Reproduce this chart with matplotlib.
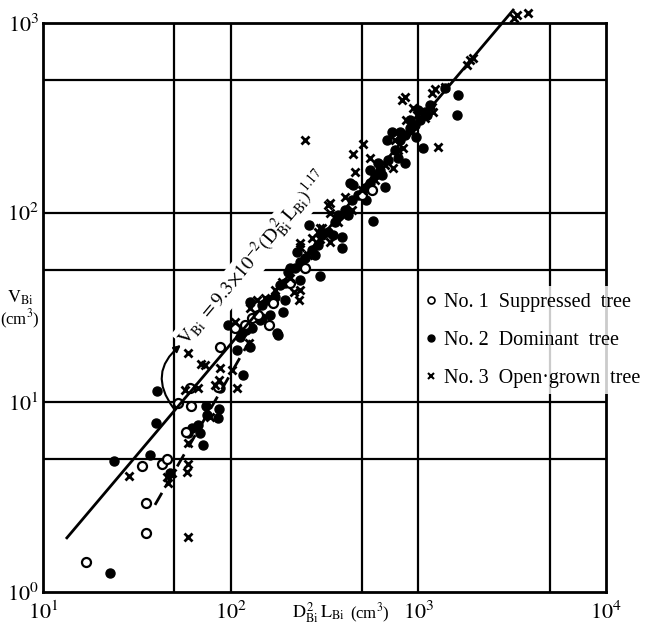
import matplotlib
matplotlib.use("Agg")
import matplotlib.pyplot as plt
from matplotlib.lines import Line2D
from matplotlib.patches import FancyArrowPatch

plt.rcParams['font.family'] = ['Liberation Serif', 'DejaVu Serif']
plt.rcParams['mathtext.fontset'] = 'stix'

# ---- data (D_Bi^2 L_Bi [cm3], V_Bi [cm3]) ----
sup_x = [16.9, 35.4, 35.4, 33.6, 43.1, 45.8, 52.4, 61.5, 60.7, 57.8, 85.5, 87.7,
         105, 119, 130, 140, 160, 168, 207, 249, 501, 567]
sup_y = [1.44, 2.05, 2.94, 4.62, 4.73, 5.02, 9.91, 9.56, 11.9, 6.97, 12.0, 19.6,
         24.6, 25.6, 27.8, 28.8, 25.6, 33.4, 42.6, 51.0, 124, 131]

dom_x = [22.8, 23.9, 37.2, 47.5, 40.5, 40.0, 71.1, 73.8, 86.7, 85.5, 74.8, 62.2,
         67.0, 68.6, 59.3, 96.8, 116, 108, 115, 87.7, 127, 179, 127, 207, 225, 261,
         392, 392, 432, 849, 1060, 664, 723, 449, 1626, 1606, 1387, 573, 299, 130,
         190, 177, 112, 121,
         147, 158, 172, 183, 195, 202, 220, 234, 249, 271, 292, 307, 330, 360, 373,
         407, 443, 476, 520, 552, 587, 625, 689, 751, 798, 849, 902, 959, 1020, 1084,
         1153, 147, 162, 195, 234, 281, 351, 422, 526, 640, 778, 971, 681, 798, 902,
         995, 1111, 610, 552, 143]
dom_y = [1.26, 4.90, 5.27, 4.24, 11.5, 7.78, 5.96, 9.56, 9.22, 8.26, 8.57, 7.32,
         7.59, 6.89, 6.89, 25.6, 13.9, 18.9, 23.2, 11.9, 19.6, 22.6, 33.8, 51.0, 62.0, 86.0,
         74.3, 65.1, 143, 183, 219, 136, 266, 140, 417, 327, 454, 90.3, 46.3, 24.6,
         29.9, 23.2, 22.1, 24.0,
         32.6, 34.6, 35.9, 41.5, 42.6, 48.6, 51.0, 54.9, 57.6, 63.5, 67.5, 76.2, 79.0, 89.2, 97.1,
         103, 116, 124, 135, 143, 158, 168, 189, 214, 241, 256, 279, 290, 308, 339,
         369, 27.8, 28.8, 34.6, 44.1, 59.7, 76.2, 97.1, 116, 158, 194, 250, 241, 266, 308,
         347, 327, 183, 168, 27.2]

opn_x = [28.7, 59.3, 58.5, 59.3, 46.3, 45.8, 48.7, 59.3, 59.3, 72.9, 69.5, 87.7,
         86.7, 82.5, 108, 102, 67.0, 77.6, 57.1, 125, 249, 507, 449, 1273, 732, 818,
         849, 1227, 1387, 1884, 1816, 1954, 3350, 3228, 3836, 859, 936, 984, 1182, 1197,
         552, 459, 751, 828, 407, 338, 338, 299, 1182, 1020, 234, 217, 231, 234, 127,
         105, 138, 330, 338, 299, 271, 234, 292, 307, 152, 172, 188, 207, 258, 373,
         407, 443, 501, 587, 664, 778, 925, 1084]
opn_y = [4.09, 1.95, 4.29, 4.73, 3.75, 4.04, 4.24, 6.10, 18.2, 15.7, 15.9, 15.2,
         13.1, 12.3, 11.9, 14.8, 11.9, 8.37, 11.6, 20.5, 241, 230, 204, 222, 172, 392,
         407, 448, 459, 637, 600, 653, 1100, 1061, 1127, 308, 356, 327, 360, 339,
         194, 164, 241, 219, 121, 112, 70.0, 72.6, 427, 335, 69.2, 38.1, 34.6, 39.1, 31.4,
         26.5, 34.6, 110, 99.5, 82.9, 73.5, 65.8, 79.0, 82.9, 35.5, 39.1, 43.1, 45.2, 59.7, 89.2,
         97.1, 103, 131, 149, 178, 214, 266, 315]

fit_x = [13.4, 3200]
fit_y = [1.93, 1170]
dash_x = [39.5, 127]
dash_y = [2.88, 21.3]

grid_x = [50, 100, 500, 1000, 5000]
grid_y = [5, 10, 50, 100, 500]
xticks = [10, 100, 1000, 10000]
xticklabels = [r'$10^{1}$', r'$10^{2}$', r'$10^{3}$', r'$10^{4}$']
yticks = [1, 10, 100, 1000]
yticklabels = [r'$10^{0}$', r'$10^{1}$', r'$10^{2}$', r'$10^{3}$']

labels = ['No. 1  Suppressed  tree', 'No. 2  Dominant  tree', 'No. 3  Open\u00b7grown  tree']
equation = r'$\mathrm{V_{Bi}\ =9.3{\times}10^{-2}(D_{Bi}^{\,2}\,L_{Bi})^{1.17}}$'
eq_pos = (133, 57)
arrow_tail = (50.5, 9.1)
arrow_head = (55.7, 20.5)

# ---- figure ----
fig = plt.figure(figsize=(6.48, 6.28), dpi=100)
ax = fig.add_axes([0.0664, 0.0573, 0.8688, 0.9061])
ax.set_xscale('log')
ax.set_yscale('log')
ax.set_xlim(10, 10000)
ax.set_ylim(1, 1000)

for gx in grid_x:
    ax.axvline(gx, color='black', lw=1.6, zorder=1)
for gy in grid_y:
    ax.axhline(gy, color='black', lw=1.6, zorder=1)

ax.set_xticks(xticks)
ax.set_xticklabels(xticklabels, fontsize=16)
ax.set_yticks(yticks)
ax.set_yticklabels(yticklabels, fontsize=16)
ax.minorticks_off()
ax.tick_params(length=0)
ax.tick_params(axis='x', pad=7)
ax.tick_params(axis='y', pad=3)
for s in ax.spines.values():
    s.set_linewidth(2)

ax.plot(fit_x, fit_y, color='black', lw=2, zorder=4, clip_on=False)
ax.plot(dash_x, dash_y, color='black', lw=2, ls=(0, (5, 3)), zorder=4)

ax.plot(dom_x, dom_y, 'o', color='black', ms=6.5, zorder=3, clip_on=False)
ax.plot(sup_x, sup_y, 'o', mfc='white', mec='black', mew=1.6, ms=6.5, zorder=3)
ax.plot(opn_x, opn_y, 'x', color='black', mew=2, ms=6, zorder=3, clip_on=False)

ax.text(eq_pos[0], eq_pos[1], equation, rotation=50, rotation_mode='anchor',
        ha='center', va='center', fontsize=14, zorder=2,
        bbox=dict(facecolor='white', edgecolor='none', pad=1))

arr = FancyArrowPatch(arrow_tail, arrow_head, connectionstyle='arc3,rad=-0.5',
                      arrowstyle='-|>', mutation_scale=10, lw=1.5, color='black', zorder=4)
ax.add_patch(arr)

handles = [Line2D([], [], ls='none', marker='o', mfc='white', mec='black', mew=1.2, ms=5),
           Line2D([], [], ls='none', marker='o', color='black', ms=5),
           Line2D([], [], ls='none', marker='x', color='black', mew=1.5, ms=5)]
leg = ax.legend(handles, labels, loc='upper left', bbox_to_anchor=(0.67, 0.537),
                frameon=True, fontsize=14.5, handlelength=0.5, handletextpad=0.4,
                labelspacing=0.95, borderpad=0.3, borderaxespad=0, fancybox=False)
leg.get_frame().set_facecolor('white')
leg.get_frame().set_edgecolor('none')
leg.set_zorder(6)

fig.text(20 / 648, 1 - 298 / 628, r'$\mathrm{V_{Bi}}$', fontsize=13, ha='center', va='center')
fig.text(20 / 648, 1 - 319 / 628, r'(cm$^{3}$)', fontsize=12, ha='center', va='center')
fig.text(292 / 648, 1 - 613 / 628, r'$\mathrm{D_{Bi}^{\,2}\,L_{Bi}}$', fontsize=13,
         ha='left', va='center')
fig.text(370 / 648, 1 - 613 / 628, r'(cm$^{3}$)', fontsize=12, ha='center', va='center')

fig.savefig('out.png', dpi=100)
